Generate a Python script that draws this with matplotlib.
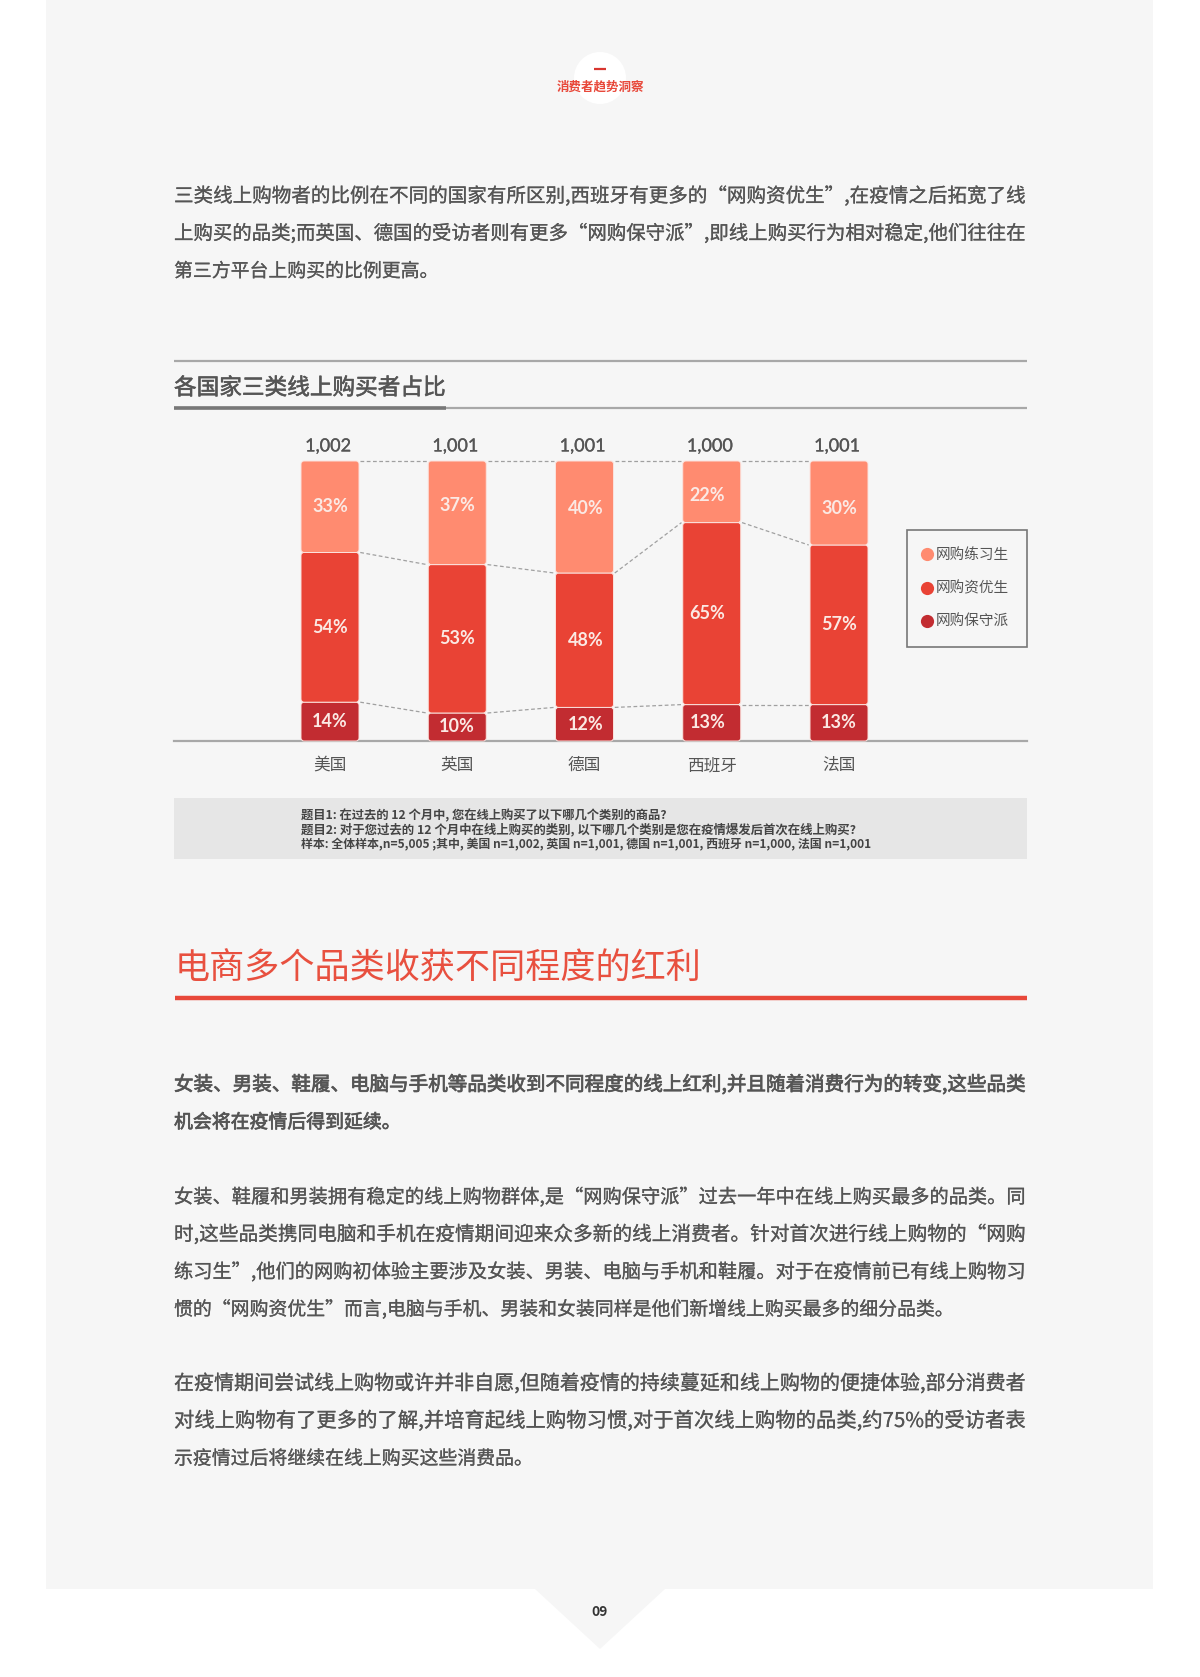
import numpy as np
import matplotlib
matplotlib.use('Agg')
import matplotlib.pyplot as plt
import matplotlib.patheffects as pe
from matplotlib.patches import FancyBboxPatch, Rectangle, Polygon, Circle
from matplotlib.lines import Line2D

plt.rcParams['font.family'] = ['Noto Sans CJK SC', 'DejaVu Sans']

# data
countries = ['美国', '英国', '德国', '西班牙', '法国']
sample_sizes = ['1,002', '1,001', '1,001', '1,000', '1,001']
trainees = [33, 37, 40, 22, 30]    # 网购练习生
top_students = [54, 53, 48, 65, 57]  # 网购资优生
keepers = [14, 10, 12, 13, 13]     # 网购保守派
legend_names = ['网购练习生', '网购资优生', '网购保守派']

chart_title = '各国家三类线上购买者占比'
section_title = '电商多个品类收获不同程度的红利'
page_header = '消费者趋势洞察'
page_number = '09'

intro_lines = [
    '三类线上购物者的比例在不同的国家有所区别,西班牙有更多的“网购资优生”,在疫情之后拓宽了线',
    '上购买的品类;而英国、德国的受访者则有更多“网购保守派”,即线上购买行为相对稳定,他们往往在',
    '第三方平台上购买的比例更高。',
]
note_lines = [
    '题目1: 在过去的 12 个月中, 您在线上购买了以下哪几个类别的商品?',
    '题目2: 对于您过去的 12 个月中在线上购买的类别, 以下哪几个类别是您在疫情爆发后首次在线上购买?',
    '样本: 全体样本,n=5,005 ;其中, 美国 n=1,002, 英国 n=1,001, 德国 n=1,001, 西班牙 n=1,000, 法国 n=1,001',
]
bold_lines = [
    '女装、男装、鞋履、电脑与手机等品类收到不同程度的线上红利,并且随着消费行为的转变,这些品类',
    '机会将在疫情后得到延续。',
]
para1_lines = [
    '女装、鞋履和男装拥有稳定的线上购物群体,是“网购保守派”过去一年中在线上购买最多的品类。同',
    '时,这些品类携同电脑和手机在疫情期间迎来众多新的线上消费者。针对首次进行线上购物的“网购',
    '练习生”,他们的网购初体验主要涉及女装、男装、电脑与手机和鞋履。对于在疫情前已有线上购物习',
    '惯的“网购资优生”而言,电脑与手机、男装和女装同样是他们新增线上购买最多的细分品类。',
]
para2_lines = [
    '在疫情期间尝试线上购物或许并非自愿,但随着疫情的持续蔓延和线上购物的便捷体验,部分消费者',
    '对线上购物有了更多的了解,并培育起线上购物习惯,对于首次线上购物的品类,约75%的受访者表',
    '示疫情过后将继续在线上购买这些消费品。',
]

W, H = 1200, 1677
LIGHT, MID, DARK = '#FF8B70', '#E94335', '#C22C31'
GREY = '#555555'
LEFT, RIGHT = 174, 1027

fig = plt.figure(figsize=(W / 100, H / 100), dpi=100, facecolor='white')

# whole page drawn in pixel coordinates
page = fig.add_axes([0, 0, 1, 1])
page.set_xlim(0, W)
page.set_ylim(H, 0)
page.axis('off')

page.add_patch(Rectangle((46, 0), 1107, 1589, fc='#F6F6F6', ec='none'))
page.add_patch(Polygon([(535, 1589), (665, 1589), (600, 1649)], fc='#F6F6F6', ec='none'))
page.add_patch(Circle((600, 78), 26, fc='white', ec='none'))
page.plot([594, 606], [69, 69], color='#D8362F', lw=1.6, solid_capstyle='butt')
page.text(600, 87, page_header, color='#E8483A', fontsize=9, weight='bold', ha='center', va='center')
page.text(600, 1612, page_number, color='#333333', fontsize=10, weight='bold', ha='center', va='center')

renderer = fig.canvas.get_renderer()


def line_of_text(x, y, s, width=None, stroke=0, **kw):
    # full lines are justified in the source, so scale the size to fill the width
    t = page.text(x, y, s, ha='left', va='center', **kw)
    if width is not None:
        w = t.get_window_extent(renderer).width
        t.set_fontsize(t.get_fontsize() * width / w)
    if stroke:
        # the source weight sits between regular and bold
        t.set_path_effects([pe.withStroke(linewidth=stroke, foreground=t.get_color())])
    return t


def paragraph(lines, y0, step=37.4, stroke=0.15):
    for i, s in enumerate(lines):
        fit = i < len(lines) - 1
        line_of_text(LEFT, y0 + i * step, s, width=851 if fit else None, stroke=stroke,
                     fontsize=13.6, color=GREY)


paragraph(intro_lines, 196.5)

# chart title with its rules
page.plot([LEFT, RIGHT], [361, 361], color='#A8A8A8', lw=1.6, solid_capstyle='butt')
page.plot([LEFT, RIGHT], [408, 408], color='#A8A8A8', lw=1.6, solid_capstyle='butt')
page.plot([LEFT, 446], [408, 408], color='#777777', lw=2.6, solid_capstyle='butt')
line_of_text(LEFT, 388, chart_title, width=272, stroke=0.4, fontsize=16, color=GREY)

# note box
page.add_patch(Rectangle((LEFT, 798), RIGHT - LEFT, 61, fc='#E6E6E6', ec='none'))
for s, y, w in zip(note_lines, [815.5, 830, 844.5], [367, 557, 571]):
    line_of_text(301, y, s, width=w, fontsize=8.3, color='#444444', weight='bold')

# section heading
line_of_text(175, 969, section_title, width=527, fontsize=25, color='#E8503F', weight='light')
page.plot([LEFT + 1, RIGHT], [998, 998], color='#E8483A', lw=3.2, solid_capstyle='butt')

paragraph(bold_lines, 1085, stroke=0.5)
paragraph(para1_lines, 1197.5)
paragraph(para2_lines, 1384)

# the chart itself: y is the share of each bar, 0 at the baseline, 1 at the top
base_y, top_y = 741, 461
x_first, x_unit = 330, 127.25
ax = fig.add_axes([LEFT / W, 1 - base_y / H, (RIGHT - LEFT) / W, (base_y - top_y) / H])
ax.patch.set_alpha(0)
ax.set_xlim((LEFT - x_first) / x_unit, (RIGHT - x_first) / x_unit)
ax.set_ylim(0, 1)
for name in ['top', 'left', 'right']:
    ax.spines[name].set_visible(False)
ax.spines['bottom'].set_color('#A8A8A8')
ax.spines['bottom'].set_linewidth(1.6)
ax.set_yticks([])
x = np.arange(len(countries))
ax.set_xticks(x, countries)
ax.tick_params(axis='x', length=0, pad=11.5, labelsize=12, labelcolor=GREY)

totals = np.array(trainees) + np.array(top_students) + np.array(keepers)
series = [np.array(keepers), np.array(top_students), np.array(trainees)]
colors = [DARK, MID, LIGHT]
bar_w = 58 / x_unit
aspect = x_unit / (base_y - top_y)
# hand nudges of the labels, in points, as in the original layout
top_label_nudge = [0, 5, 6, -3, -4]
label_shift = [0, 0, 1, -3, 0]

bottom = np.zeros(len(x))
for k, (vals, col) in enumerate(zip(series, colors)):
    share = vals / totals
    for i in x:
        ax.add_patch(FancyBboxPatch((i - bar_w / 2, bottom[i]), bar_w, share[i],
                                    boxstyle='round,pad=0,rounding_size=0.024',
                                    mutation_aspect=aspect, fc=col, ec='#FBE3DE', lw=0.7,
                                    zorder=3, clip_on=False))
        nudge = top_label_nudge[i] if k == 2 else 0
        ax.annotate(f'{vals[i]}%', (i, bottom[i] + share[i] / 2), xytext=(label_shift[i], nudge),
                    textcoords='offset points', ha='center', va='center', color='#FBE9E4',
                    fontsize=13, fontfamily='Lato', weight='bold', zorder=4)
    bottom = bottom + share
    # dashed connectors between neighbouring bars
    for i in x[:-1]:
        ax.plot([i + bar_w / 2 + 0.01, i + 1 - bar_w / 2 - 0.01], [bottom[i], bottom[i + 1]],
                color='#A0A0A0', lw=0.9, ls=(0, (3, 2)), zorder=2, clip_on=False)

for i in x:
    t = ax.annotate(sample_sizes[i], (i, 1), xytext=(-1.5, 10.5), textcoords='offset points',
                    ha='center', va='center', color=GREY, fontsize=13, fontfamily='Lato',
                    annotation_clip=False)
    t.set_path_effects([pe.withStroke(linewidth=0.2, foreground=GREY)])

handles = [Line2D([], [], ls='none', marker='o', ms=9.5, color=c, mec='none')
           for c in [LIGHT, MID, DARK]]
leg = ax.legend(handles, legend_names, loc='center',
                bbox_to_anchor=((967 - LEFT) / (RIGHT - LEFT), (741 - 588.5) / 280),
                fontsize=10.5, labelcolor=GREY, frameon=True, fancybox=False, framealpha=1,
                facecolor='#F6F6F6', edgecolor='#777777', labelspacing=1.3, borderpad=1.25,
                handletextpad=0.5, handlelength=0.2, borderaxespad=0)
leg.get_frame().set_linewidth(1.2)

fig.savefig('out.png', dpi=100, facecolor='white')
